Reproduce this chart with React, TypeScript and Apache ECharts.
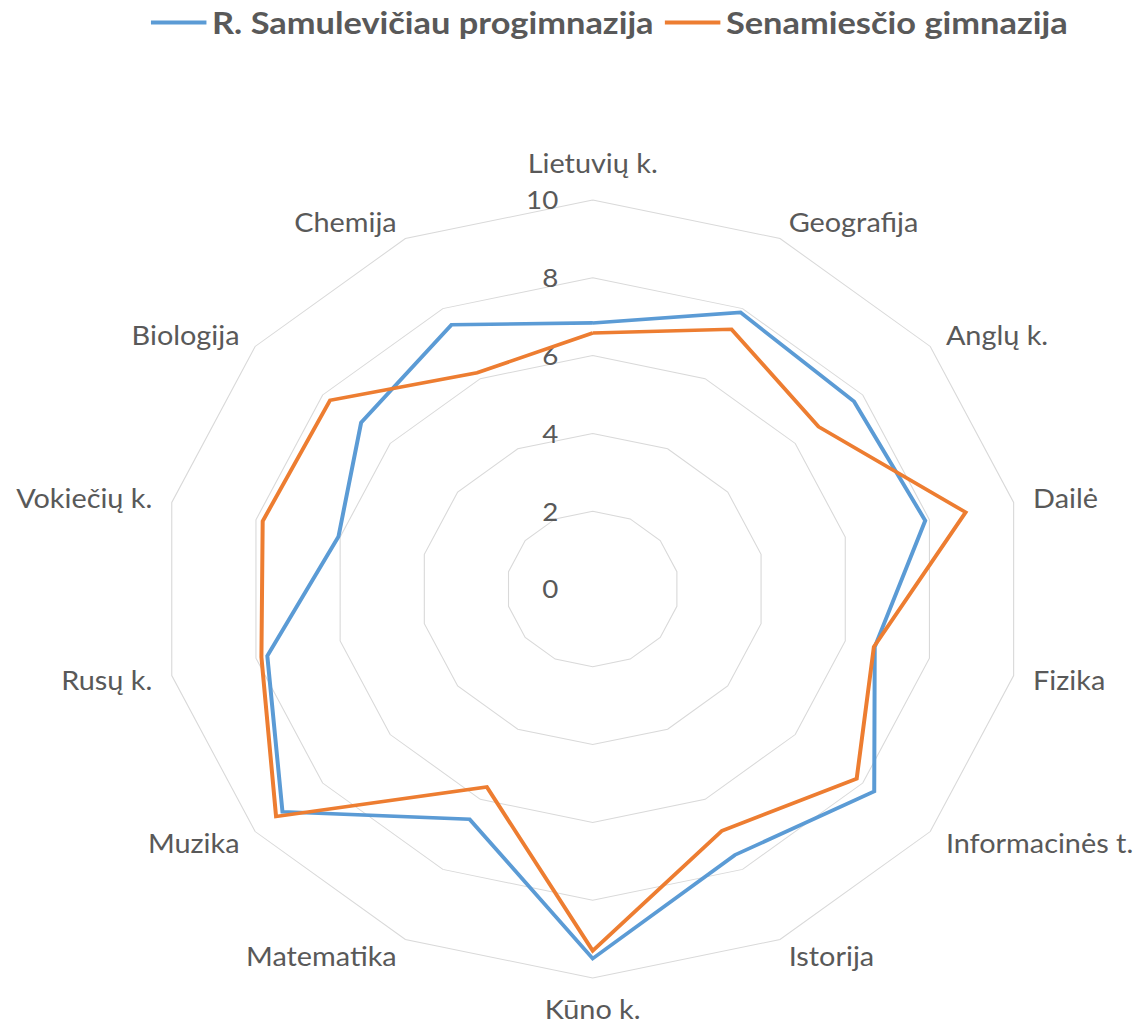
import React, { useEffect, useRef } from 'react';
import * as echarts from 'echarts';

// Subjects, listed clockwise starting at the top
const categories = [
  'Lietuvių k.',
  'Geografija',
  'Anglų k.',
  'Dailė',
  'Fizika',
  'Informacinės t.',
  'Istorija',
  'Kūno k.',
  'Matematika',
  'Muzika',
  'Rusų k.',
  'Vokiečių k.',
  'Biologija',
  'Chemija',
];

const seriesNames = ['R. Samulevičiau progimnazija', 'Senamiesčio gimnazija'];

const samulevicius = [6.84, 7.89, 7.74, 7.9, 6.7, 8.34, 7.59, 9.5, 6.57, 9.19, 7.73, 6.04, 6.86, 7.54];
const senamiescio = [6.58, 7.41, 6.69, 8.86, 6.68, 7.82, 6.9, 9.3, 5.65, 9.38, 7.87, 7.84, 7.78, 6.17];

const axisMin = 0;
const axisMax = 10;
const axisSplits = 5;

const PAGE_W = 1141;
const PAGE_H = 1028;
const CHART_W = 1028;
const STRETCH_X = PAGE_W / CHART_W;

const TEXT = '#595959';
const FONT = 'Lato';

export default function App() {
  const ref = useRef<HTMLDivElement>(null);

  useEffect(() => {
    document.body.style.margin = '0';
    const chart = echarts.init(ref.current as HTMLDivElement, null, { renderer: 'svg' });

    // ECharts places radar indicators counter-clockwise; reorder so they read clockwise
    const n = categories.length;
    const order = [0];
    for (let i = n - 1; i >= 1; i--) order.push(i);

    const indicator = order.map((idx, k) => {
      const ind: any = { name: categories[idx], min: axisMin, max: axisMax };
      if (k === 0) {
        ind.axisLabel = {
          show: true,
          color: TEXT,
          fontSize: 25,
          fontFamily: FONT,
          margin: 31,
          showMinLabel: true,
          showMaxLabel: true,
        };
      }
      return ind;
    });

    const option: any = {
      animation: false,
      backgroundColor: '#ffffff',
      color: ['#5B9BD5', '#ED7D31'],
      legend: {
        data: seriesNames,
        left: 131,
        top: 2,
        icon: 'rect',
        itemWidth: 50,
        itemHeight: 4,
        itemGap: 10,
        textStyle: { fontSize: 31, fontWeight: 'bold', color: TEXT, fontFamily: FONT },
      },
      radar: {
        center: [534, 589],
        radius: 389,
        startAngle: 90,
        splitNumber: axisSplits,
        shape: 'polygon',
        indicator,
        axisNameGap: 18,
        axisName: {
          color: TEXT,
          fontSize: 26,
          fontFamily: FONT,
          formatter: (name: string) => (name === categories[0] ? `{top|${name}}` : name),
          rich: {
            top: { color: TEXT, fontSize: 26, fontFamily: FONT, padding: [0, 0, 6, 0] },
          },
        },
        splitLine: { lineStyle: { color: '#D9D9D9', width: 1 } },
        splitArea: { show: false },
        axisLine: { show: false },
        axisTick: { show: false },
        axisLabel: { show: false },
      },
      series: [
        {
          type: 'radar',
          name: seriesNames[0],
          symbol: 'none',
          lineStyle: { width: 3.6, color: '#5B9BD5', join: 'miter' },
          itemStyle: { color: '#5B9BD5' },
          data: [{ name: seriesNames[0], value: order.map((i) => samulevicius[i]) }],
        },
        {
          type: 'radar',
          name: seriesNames[1],
          symbol: 'none',
          lineStyle: { width: 3.6, color: '#ED7D31', join: 'miter' },
          itemStyle: { color: '#ED7D31' },
          data: [{ name: seriesNames[1], value: order.map((i) => senamiescio[i]) }],
        },
      ],
    };

    chart.setOption(option);
    return () => {
      chart.dispose();
    };
  }, []);

  return (
    <div
      style={{
        position: 'absolute',
        left: 0,
        top: 0,
        width: PAGE_W,
        height: PAGE_H,
        overflow: 'hidden',
        background: '#ffffff',
      }}
    >
      <div
        ref={ref}
        style={{
          width: CHART_W,
          height: PAGE_H,
          transform: `scaleX(${STRETCH_X})`,
          transformOrigin: '0 0',
        }}
      />
    </div>
  );
}
